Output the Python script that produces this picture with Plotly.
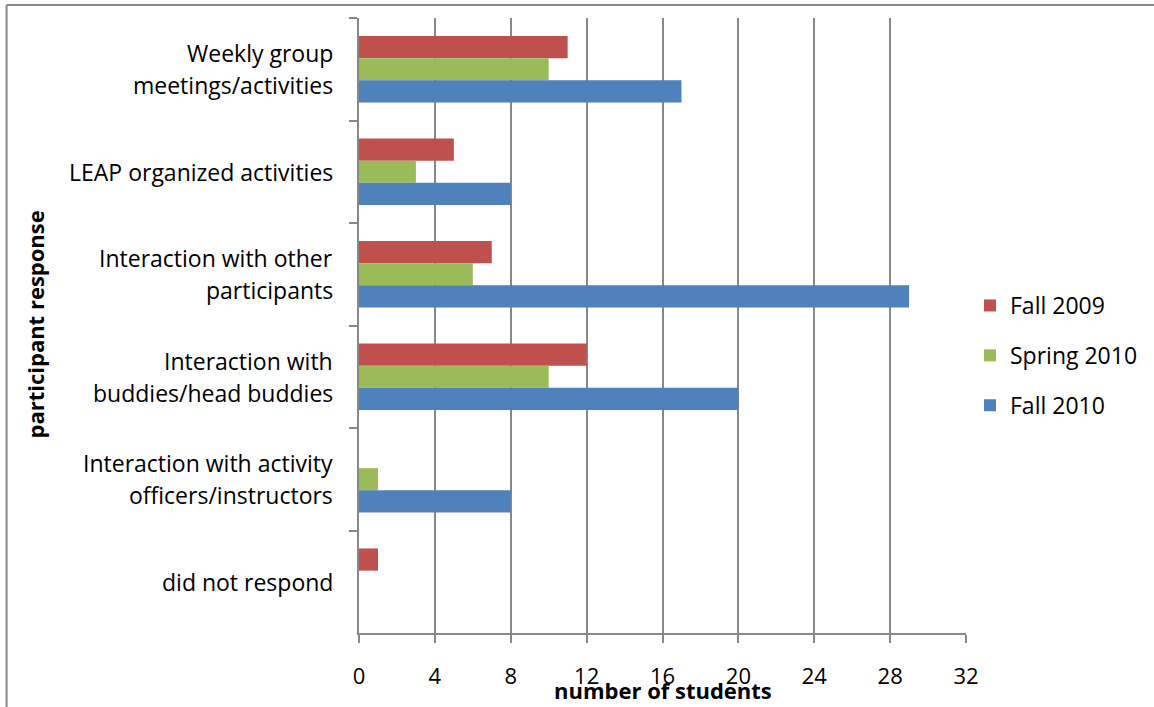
import plotly.graph_objects as go

categories = [
    "Weekly group<br>meetings/activities",
    "LEAP organized activities",
    "Interaction with other<br>participants",
    "Interaction with<br>buddies/head buddies",
    "Interaction with activity<br>officers/instructors",
    "did not respond",
]
fall_2009 = [11, 5, 7, 12, 0, 1]
spring_2010 = [10, 3, 6, 10, 1, 0]
fall_2010 = [17, 8, 29, 20, 8, 0]
x_ticks = [0, 4, 8, 12, 16, 20, 24, 28, 32]

FONT = "Open Sans"
GRID = "#888888"
W, H = 1154, 707
L, R, T, B = 359, 187, 18, 74
PW, PH = W - L - R, H - T - B

fig = go.Figure()
series = [("Fall 2009", fall_2009, "#C0504D"),
          ("Spring 2010", spring_2010, "#9BBB59"),
          ("Fall 2010", fall_2010, "#4F81BD")]
for name, vals, col in series:
    fig.add_trace(go.Bar(y=categories, x=vals, name=name, orientation="h",
                         marker=dict(color=col, line=dict(width=0)),
                         legendgroup=name))

# category labels as centered annotations
for c in categories:
    lines = c.split("<br>")
    n = len(lines)
    for i, ln in enumerate(lines):
        shift = (n - 1) * 16 - i * 32
        fig.add_annotation(x=(335 - L) / PW, xref="paper", y=c, yref="y",
                           text=ln, showarrow=False, xanchor="right",
                           yanchor="middle", yshift=shift,
                           font=dict(family=FONT, size=23, color="black"))

fig.add_annotation(x=0.5, xref="paper", y=(633 - 690) / PH, yref="paper",
                   text="<b>number of students</b>", showarrow=False,
                   xanchor="center", yanchor="middle",
                   font=dict(family=FONT, size=22, color="black"))
fig.add_annotation(x=(34 - L) / PW, xref="paper", y=(633 - 325) / PH, yref="paper",
                   text="<b>participant response</b>", showarrow=False, textangle=-90,
                   xanchor="center", yanchor="middle",
                   font=dict(family=FONT, size=22, color="black"))

# outer frame (left and top edges visible)
fig.add_shape(type="line", xref="paper", yref="paper",
              x0=(6 - L) / PW, x1=(6 - L) / PW, y0=(633 - 5) / PH, y1=(633 - 720) / PH,
              line=dict(color="#888888", width=2))
fig.add_shape(type="line", xref="paper", yref="paper",
              x0=(6 - L) / PW, x1=(1160 - L) / PW, y0=(633 - 5) / PH, y1=(633 - 5) / PH,
              line=dict(color="#888888", width=2))

fig.update_layout(
    width=W, height=H,
    margin=dict(l=L, r=R, t=T, b=B),
    paper_bgcolor="white", plot_bgcolor="white",
    barmode="group", bargap=0.35, bargroupgap=0,
    font=dict(family=FONT, size=21, color="black"),
    legend=dict(x=(970 - L) / PW, y=(633 - 284) / PH, xanchor="left", yanchor="top",
                traceorder="grouped", tracegroupgap=17,
                font=dict(family=FONT, size=23, color="black")),
    xaxis=dict(range=[0, 32], tickvals=x_ticks, showgrid=True, gridcolor=GRID, gridwidth=1.5,
               showline=True, linecolor=GRID, linewidth=2, ticks="outside", ticklen=8,
               tickcolor=GRID, tickwidth=1.5, ticklabelstandoff=15, zeroline=False,
               tickfont=dict(family=FONT, size=22, color="black")),
    yaxis=dict(type="category", categoryorder="array", categoryarray=categories,
               range=[5.5, -0.5], showgrid=False, showline=True, linecolor=GRID, linewidth=2,
               ticks="outside", ticklen=8, tickcolor=GRID, tickwidth=1.5,
               tickson="boundaries", showticklabels=False),
)

fig.write_html("out.html", config={"displayModeBar": False},
               post_script="document.body.style.margin='0';document.body.style.overflow='hidden';")
